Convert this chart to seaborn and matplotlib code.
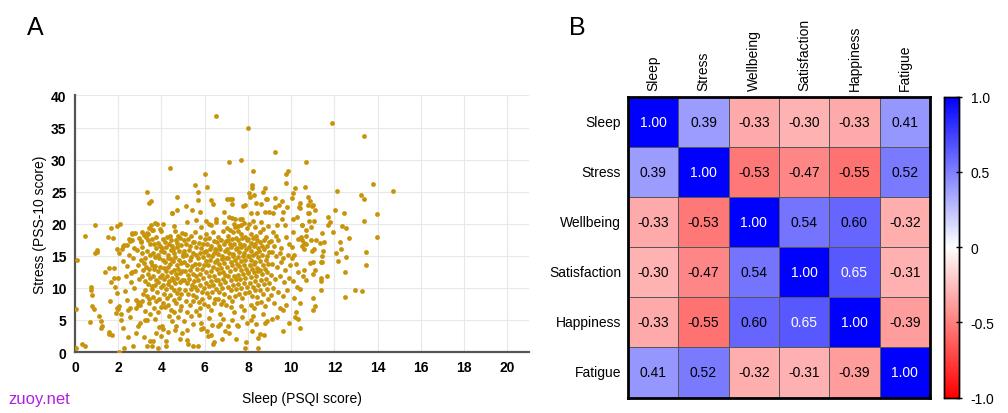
import numpy as np
import pandas as pd
import matplotlib
matplotlib.use("Agg")
import matplotlib.pyplot as plt
import seaborn as sns

# ── Panel A data: (Sleep PSQI, Stress PSS-10) ──────────────────────────
pts_low_sleep = [
    (0.91, 19.8), (1.66, 19.4), (1.95, 19.7), (2.08, 19.9), (0.45, 18.1), (1.54, 17.9),
    (1.76, 17.7), (0.11, 14.4), (1.0, 15.6), (0.94, 15.4), (0.73, 10.2), (0.74, 9.7),
    (0.79, 8.9), (0.05, 6.7), (0.79, 7.1), (0.86, 6.7), (0.69, 4.7), (1.12, 5.6),
    (1.19, 4.9), (1.19, 3.8), (0.05, 0.6), (0.31, 1.2), (0.46, 0.9), (1.56, 3.1),
    (1.72, 2.6), (2.05, 0.0), (1.39, 12.5), (1.57, 13.1), (1.82, 13.1), (2.0, 11.6),
    (1.86, 10.1), (1.93, 6.8), (1.91, 6.1), (2.11, 5.9), (2.12, 5.0), (1.58, 2.8),
    (1.94, 16.0), (2.03, 15.4), (2.18, 16.1), (1.82, 11.5), (1.66, 10.9), (1.62, 8.0),
    (1.95, 9.2), (2.05, 7.2), (1.26, 4.0), (2.0, 6.7), (1.03, 15.9),
    (2.22, 14.2), (2.23, 16.5), (2.28, 16.7), (2.42, 16.7), (2.62, 18.5), (2.54, 17.3),
    (2.49, 17.6), (2.63, 17.5), (2.65, 12.5), (2.59, 12.3), (2.79, 12.6), (2.6, 10.9),
    (2.82, 8.1), (2.93, 7.8), (3.0, 7.3), (2.9, 7.4), (2.82, 6.9), (3.02, 4.5),
    (2.91, 4.1), (2.46, 6.5), (2.56, 6.8), (2.56, 5.4), (2.26, 0.7), (2.68, 1.0),
    (2.3, 9.5), (2.4, 13.4), (2.7, 14.6), (2.5, 15.2), (2.85, 15.9), (2.35, 11.8),
    (2.75, 10.0), (2.2, 3.8), (2.45, 2.4), (2.8, 3.0), (2.75, 16.2), (2.9, 13.5),
    (2.95, 17.8), (2.4, 8.1), (2.62, 18.4), (2.77, 18.5),
]

pts_sleep_3_5 = [
    (3.05, 17.1), (3.06, 17.3), (3.12, 16.4), (3.2, 18.2), (3.28, 17.9), (3.35, 18.6),
    (3.42, 19.3), (3.1, 15.5), (3.19, 13.9), (3.25, 14.6), (3.33, 15.8), (3.45, 16.9),
    (3.48, 15.1), (3.15, 12.8), (3.3, 13.2), (3.38, 12.1), (3.43, 12.9), (3.08, 11.9),
    (2.98, 11.4), (3.22, 11.1), (3.36, 10.6), (3.47, 11.5), (3.54, 10.3), (3.16, 9.1),
    (3.26, 9.7), (3.43, 8.3), (3.32, 8.8), (3.12, 8.0), (3.4, 7.6), (3.22, 6.4),
    (3.34, 5.0), (3.25, 5.0), (3.46, 6.0), (3.46, 1.7), (3.33, 0.9), (3.18, 2.3),
    (3.5, 14.0), (3.05, 14.3), (3.38, 17.4), (3.31, 24.9), (3.51, 23.6), (3.42, 23.2),
    (3.5, 19.8), (3.08, 18.7), (3.38, 18.4),
    (3.55, 19.0), (3.62, 19.1), (3.7, 20.1), (3.8, 20.0), (3.77, 17.9), (3.92, 19.2),
    (3.58, 17.6), (3.66, 16.8), (3.74, 16.2), (3.85, 17.0), (3.95, 16.5), (3.6, 15.4),
    (3.7, 14.8), (3.82, 15.2), (3.9, 14.6), (3.98, 15.8), (3.56, 13.6), (3.64, 12.9),
    (3.72, 13.4), (3.86, 12.6), (3.94, 13.3), (3.6, 11.8), (3.76, 11.2), (3.84, 10.9),
    (3.92, 11.7), (3.58, 9.8), (3.68, 10.4), (3.8, 9.4), (3.96, 10.1), (3.62, 8.6),
    (3.75, 7.9), (3.88, 8.3), (3.66, 6.8), (3.84, 6.2), (3.97, 7.0), (3.74, 3.0),
    (3.89, 3.9), (3.82, 0.6), (3.54, 0.9), (3.62, 1.7), (3.96, 2.5), (3.7, 5.2),
    (4.0, 18.8), (4.08, 20.0), (4.38, 18.1), (4.05, 17.6), (4.15, 17.2), (4.25, 17.9),
    (4.35, 16.8), (4.45, 17.5), (4.02, 16.2), (4.12, 15.6), (4.22, 16.4), (4.3, 15.2),
    (4.42, 15.9), (4.48, 16.6), (4.05, 14.4), (4.18, 14.0), (4.28, 14.7), (4.38, 13.8),
    (4.46, 14.5), (4.1, 13.1), (4.2, 12.6), (4.32, 13.2), (4.44, 12.4), (4.02, 12.0),
    (4.14, 11.4), (4.26, 11.8), (4.36, 11.0), (4.48, 11.6), (4.08, 10.4), (4.2, 9.9),
    (4.3, 10.6), (4.42, 10.1), (4.12, 9.0), (4.25, 8.4), (4.4, 8.9), (4.05, 7.6),
    (4.18, 7.0), (4.32, 7.4), (4.45, 6.6), (4.02, 4.0), (4.05, 3.6), (4.22, 1.7),
    (4.2, 1.0), (4.35, 5.6), (4.48, 4.8), (4.28, 3.1), (4.39, 28.7), (4.48, 21.6),
    (4.62, 18.9), (4.77, 18.1), (4.7, 22.1), (4.71, 24.1), (4.5, 21.6), (4.56, 19.6),
    (4.66, 17.4), (4.74, 17.0), (4.84, 17.7), (4.94, 18.5), (4.52, 16.1), (4.6, 15.5),
    (4.7, 16.3), (4.8, 15.8), (4.9, 16.7), (4.98, 15.3), (4.55, 14.2), (4.64, 14.8),
    (4.72, 13.6), (4.82, 14.4), (4.92, 13.9), (4.58, 12.8), (4.68, 12.2), (4.78, 12.9),
    (4.88, 12.3), (4.96, 12.7), (4.54, 11.3), (4.62, 10.8), (4.74, 11.5), (4.86, 10.9),
    (4.95, 11.3), (4.6, 9.6), (4.7, 9.2), (4.82, 9.8), (4.92, 9.0), (4.56, 8.1),
    (4.68, 7.6), (4.8, 8.4), (4.9, 7.2), (4.62, 3.4), (4.67, 4.0), (4.58, 6.2),
    (4.76, 5.4), (4.88, 6.5), (4.95, 3.0), (4.85, 2.1), (4.98, 14.9),
]

pts_sleep_5_7 = [
    (5.08, 18.4), (5.14, 22.7), (5.4, 22.2), (5.38, 18.1), (5.2, 20.3), (5.02, 17.4),
    (5.12, 16.8), (5.22, 17.6), (5.32, 16.5), (5.44, 17.2), (5.05, 15.7), (5.15, 15.1),
    (5.26, 15.9), (5.36, 14.8), (5.48, 15.5), (5.04, 14.1), (5.18, 13.6), (5.3, 14.3),
    (5.42, 13.4), (5.1, 12.6), (5.22, 12.0), (5.34, 12.8), (5.46, 12.2), (5.06, 11.2),
    (5.16, 10.7), (5.28, 11.4), (5.4, 10.5), (5.5, 11.0), (5.1, 9.6), (5.24, 9.1),
    (5.36, 9.8), (5.48, 8.9), (5.14, 8.0), (5.3, 7.4), (5.44, 7.9), (5.2, 6.2),
    (5.38, 5.6), (5.16, 3.5), (5.2, 1.9), (5.22, 1.2), (5.46, 4.4), (5.05, 4.9),
    (5.54, 18.7), (5.77, 17.9), (5.56, 26.1), (5.71, 24.9), (5.68, 23.7), (5.76, 21.9),
    (5.6, 20.6), (5.85, 19.5), (5.52, 17.1), (5.62, 16.4), (5.72, 17.0), (5.82, 16.2),
    (5.94, 16.9), (5.58, 15.2), (5.68, 14.6), (5.78, 15.4), (5.9, 14.8), (5.98, 15.6),
    (5.55, 13.7), (5.65, 13.0), (5.75, 13.8), (5.86, 12.9), (5.96, 13.5), (5.6, 11.9),
    (5.7, 11.3), (5.8, 12.1), (5.92, 11.5), (5.54, 10.2), (5.66, 9.7), (5.78, 10.4),
    (5.88, 9.4), (5.98, 10.0), (5.62, 8.5), (5.74, 7.8), (5.86, 8.3), (5.96, 7.5),
    (5.58, 6.4), (5.72, 5.7), (5.84, 4.6), (5.67, 1.0), (5.9, 3.8), (5.8, 6.9),
    (5.46, 1.0), (5.85, 3.6),
    (6.08, 18.4), (6.38, 18.7), (6.0, 27.8), (6.11, 25.7), (6.31, 23.7), (6.08, 20.4),
    (6.19, 20.0), (6.31, 19.8), (6.02, 17.6), (6.12, 16.9), (6.22, 17.8), (6.3, 16.6),
    (6.42, 17.3), (6.48, 16.1), (6.05, 15.8), (6.15, 15.2), (6.25, 16.0), (6.35, 14.9),
    (6.45, 15.5), (6.04, 14.2), (6.16, 13.6), (6.26, 14.4), (6.38, 13.3), (6.48, 14.0),
    (6.08, 12.4), (6.2, 11.8), (6.3, 12.6), (6.42, 11.9), (6.06, 10.8), (6.18, 10.3),
    (6.28, 11.1), (6.4, 10.5), (6.5, 11.3), (6.1, 9.2), (6.22, 8.6), (6.34, 9.4),
    (6.46, 8.2), (6.14, 7.2), (6.3, 6.6), (6.44, 7.6), (6.2, 5.3), (6.35, 4.2),
    (6.28, 2.6), (6.12, 3.3), (6.39, 23.0), (6.45, 1.5), (6.39, 1.2), (6.16, 2.5),
    (6.5, 36.8), (6.51, 20.7), (6.54, 20.3), (6.87, 20.2), (6.62, 17.9), (6.85, 18.9),
    (6.91, 21.9), (6.56, 17.2), (6.66, 16.6), (6.76, 17.5), (6.88, 16.8), (6.98, 17.3),
    (6.52, 15.9), (6.62, 15.3), (6.72, 16.1), (6.82, 15.0), (6.94, 15.7), (6.58, 14.3),
    (6.68, 13.7), (6.78, 14.5), (6.9, 13.9), (6.98, 14.6), (6.55, 12.9), (6.65, 12.3),
    (6.75, 13.1), (6.86, 12.5), (6.96, 12.0), (6.6, 11.2), (6.72, 10.6), (6.84, 11.4),
    (6.94, 10.9), (6.54, 9.8), (6.66, 9.3), (6.78, 10.0), (6.9, 9.1), (6.62, 8.2),
    (6.74, 7.5), (6.86, 8.0), (6.98, 7.3), (6.7, 6.0), (6.84, 5.2), (6.6, 4.0),
    (6.95, 3.3), (6.78, 2.1), (6.7, 4.4),
]

pts_sleep_7_9 = [
    (7.11, 29.7), (7.02, 23.9), (7.19, 23.9), (7.27, 23.8), (7.27, 23.0), (7.13, 21.1),
    (7.28, 20.9), (7.42, 20.7), (7.34, 20.0), (7.08, 18.1), (7.31, 18.7), (7.04, 19.4),
    (7.18, 19.1), (7.4, 19.5), (7.06, 17.4), (7.16, 16.8), (7.26, 17.6), (7.36, 16.9),
    (7.46, 17.8), (7.02, 16.1), (7.12, 15.5), (7.22, 16.3), (7.32, 15.3), (7.44, 16.0),
    (7.08, 14.7), (7.2, 14.1), (7.3, 14.9), (7.42, 14.3), (7.04, 13.3), (7.16, 12.7),
    (7.28, 13.5), (7.4, 12.9), (7.48, 13.7), (7.1, 11.8), (7.22, 11.2), (7.34, 11.9),
    (7.46, 11.4), (7.06, 10.2), (7.2, 9.6), (7.32, 10.4), (7.44, 9.8), (7.14, 8.6),
    (7.28, 8.0), (7.4, 8.8), (7.2, 7.0), (7.36, 6.2), (7.24, 5.0), (7.48, 4.2),
    (7.12, 2.9), (7.08, 4.1), (7.47, 2.1),
    (7.67, 29.9), (7.54, 18.9), (7.69, 18.4), (7.85, 17.9), (7.79, 22.7), (7.87, 22.9),
    (7.62, 20.8), (7.73, 20.7), (7.67, 19.8), (7.84, 20.1), (7.52, 19.6), (7.96, 19.3),
    (7.56, 17.5), (7.64, 16.9), (7.74, 17.7), (7.82, 16.7), (7.94, 17.4), (7.5, 16.2),
    (7.6, 15.6), (7.7, 16.4), (7.8, 15.4), (7.92, 16.0), (7.54, 14.8), (7.66, 14.2),
    (7.76, 15.0), (7.88, 14.4), (7.98, 14.9), (7.58, 13.4), (7.7, 12.8), (7.8, 13.6),
    (7.92, 13.0), (7.52, 12.0), (7.64, 11.4), (7.76, 12.2), (7.88, 11.6), (7.98, 12.4),
    (7.56, 10.6), (7.68, 10.0), (7.82, 10.8), (7.94, 10.2), (7.6, 9.0), (7.74, 8.4),
    (7.88, 9.2), (7.66, 7.2), (7.84, 6.6), (7.72, 5.4), (7.95, 4.6), (7.9, 1.6),
    (7.85, 0.7), (7.54, 4.1),
    (8.0, 35.0), (8.25, 28.2), (8.04, 24.8), (8.08, 24.1), (8.18, 26.0), (8.21, 25.5),
    (8.28, 24.5), (8.13, 21.6), (8.44, 21.7), (8.36, 23.2), (8.31, 19.5), (8.15, 18.4),
    (8.38, 18.1), (8.05, 19.9), (8.22, 20.4), (8.02, 17.6), (8.12, 17.0), (8.22, 17.8),
    (8.32, 16.9), (8.44, 17.5), (8.06, 16.3), (8.16, 15.7), (8.26, 16.5), (8.36, 15.5),
    (8.48, 16.2), (8.04, 15.0), (8.14, 14.4), (8.24, 15.2), (8.34, 14.1), (8.46, 14.8),
    (8.08, 13.5), (8.2, 12.9), (8.3, 13.7), (8.42, 13.1), (8.02, 12.3), (8.14, 11.7),
    (8.26, 12.5), (8.38, 11.9), (8.48, 12.6), (8.1, 10.8), (8.22, 10.2), (8.34, 11.0),
    (8.46, 10.4), (8.06, 9.4), (8.2, 8.8), (8.32, 9.6), (8.44, 8.6), (8.14, 7.4),
    (8.3, 6.8), (8.42, 7.6), (8.24, 5.6), (8.38, 4.4), (8.18, 3.3), (8.45, 2.2),
    (8.47, 0.7), (8.13, 5.0),
    (8.54, 18.7), (8.85, 17.9), (8.62, 23.1), (8.68, 25.0), (8.78, 25.6), (8.85, 23.8),
    (8.9, 23.9), (8.81, 21.9), (8.96, 21.8), (8.62, 20.2), (8.93, 19.6), (8.7, 19.2),
    (8.56, 17.2), (8.66, 16.6), (8.76, 17.4), (8.9, 16.5), (8.98, 17.1), (8.52, 15.8),
    (8.64, 15.2), (8.74, 16.0), (8.86, 15.0), (8.96, 15.6), (8.58, 14.2), (8.7, 13.6),
    (8.82, 14.4), (8.94, 13.8), (8.54, 12.8), (8.66, 12.2), (8.78, 13.0), (8.9, 12.4),
    (8.6, 11.2), (8.72, 10.6), (8.84, 11.4), (8.96, 10.8), (8.56, 9.6), (8.7, 9.0),
    (8.86, 9.8), (8.62, 7.8), (8.8, 7.2), (8.94, 8.2), (8.7, 5.9), (8.88, 4.8),
    (8.75, 2.7), (8.55, 2.8), (8.78, 4.5),
]

pts_sleep_9_11 = [
    (9.27, 31.2), (9.16, 21.6), (9.27, 24.0), (9.27, 22.6), (9.42, 22.9), (9.59, 23.6),
    (9.62, 21.9), (9.82, 22.6), (9.87, 28.2), (9.75, 27.8), (9.78, 26.4), (9.15, 18.7),
    (9.31, 18.1), (9.33, 19.8), (9.58, 20.7), (9.7, 19.8), (9.77, 17.9), (9.05, 17.3),
    (9.2, 16.6), (9.4, 17.4), (9.55, 16.2), (9.9, 16.9), (9.1, 15.6), (9.28, 14.9),
    (9.46, 15.4), (9.64, 14.6), (9.85, 15.2), (9.12, 13.8), (9.35, 13.2), (9.52, 14.0),
    (9.72, 12.8), (9.94, 13.5), (9.08, 12.0), (9.26, 11.4), (9.48, 11.9), (9.66, 10.9),
    (9.88, 11.6), (9.18, 10.0), (9.4, 9.4), (9.6, 8.7), (9.8, 9.6), (9.22, 7.6),
    (9.5, 6.8), (9.74, 7.3), (9.35, 5.4), (9.9, 4.6), (9.6, 3.2), (9.05, 8.9),
    (9.13, 5.1), (9.62, 6.5),
    (10.04, 24.0), (10.08, 24.8), (10.18, 25.6), (10.39, 23.2), (10.36, 22.6), (10.62, 25.7),
    (10.76, 24.2), (10.76, 22.9), (10.07, 20.7), (10.28, 21.1), (10.5, 19.8), (10.78, 21.7),
    (10.08, 18.7), (10.31, 17.6), (10.69, 18.1), (10.7, 29.7), (10.87, 23.6), (10.96, 22.8),
    (10.82, 21.7), (10.39, 22.4), (10.48, 19.8), (10.7, 19.1), (10.93, 19.5), (10.44, 18.0),
    (10.52, 17.5), (10.58, 17.0), (10.67, 16.9), (10.5, 16.6), (10.93, 17.5), (10.61, 16.1),
    (10.96, 15.7), (10.87, 13.9), (10.99, 14.1), (10.61, 12.8), (10.56, 11.9), (10.7, 11.2),
    (10.39, 9.8), (10.39, 7.6), (10.39, 3.7), (10.05, 16.4), (10.15, 15.2), (10.22, 13.8),
    (10.3, 12.4), (10.1, 11.0), (10.25, 10.2), (10.12, 8.4), (10.2, 6.3), (10.3, 5.2),
    (10.06, 14.6), (10.16, 5.5), (11.02, 22.9), (11.1, 22.2), (11.07, 20.5), (10.81, 20.5),
    (11.13, 17.5), (11.07, 16.1), (11.09, 12.8), (11.01, 12.1), (11.02, 8.4), (11.09, 7.1),
    (11.02, 6.5),
]

pts_high_sleep = [
    (11.9, 35.7), (13.35, 33.7), (13.78, 26.2), (14.69, 25.1), (12.12, 25.1), (13.24, 24.5),
    (13.35, 23.8), (12.04, 22.2), (12.46, 21.6), (11.7, 21.1), (11.81, 20.2), (11.69, 19.8),
    (13.35, 20.5), (13.98, 21.5), (12.35, 19.6), (12.53, 19.4), (11.92, 18.7), (11.44, 18.6),
    (12.66, 17.8), (13.96, 17.9), (11.33, 17.0), (11.5, 17.1), (12.24, 17.2), (12.29, 16.0),
    (12.06, 15.4), (13.44, 15.6), (11.47, 15.7), (11.42, 14.9), (12.55, 14.8), (12.16, 14.2),
    (11.36, 14.1), (11.42, 14.1), (13.47, 13.6), (12.49, 12.4), (11.65, 11.8), (11.39, 11.5),
    (11.39, 11.0), (11.36, 9.7), (12.93, 9.7), (13.26, 9.5), (12.47, 8.6),
]

# ── Panel B data: correlation matrix ──────────────────────────────────
measures = ["Sleep", "Stress", "Wellbeing", "Satisfaction", "Happiness", "Fatigue"]
corr_rows = [
    [1.00, 0.39, -0.33, -0.30, -0.33, 0.41],
    [0.39, 1.00, -0.53, -0.47, -0.55, 0.52],
    [-0.33, -0.53, 1.00, 0.54, 0.60, -0.32],
    [-0.30, -0.47, 0.54, 1.00, 0.65, -0.31],
    [-0.33, -0.55, 0.60, 0.65, 1.00, -0.39],
    [0.41, 0.52, -0.32, -0.31, -0.39, 1.00],
]
cbar_ticks = [1.0, 0.5, 0, -0.5, -1.0]
cbar_labels = ["1.0", "0.5", "0", "-0.5", "-1.0"]

DOT = "#c8940a"
plt.rcParams["font.family"] = ["Liberation Sans", "DejaVu Sans"]

all_pts = (pts_low_sleep + pts_sleep_3_5 + pts_sleep_5_7 + pts_sleep_7_9
           + pts_sleep_9_11 + pts_high_sleep)
df = pd.DataFrame(all_pts, columns=["sleep", "stress"])

fig = plt.figure(figsize=(10.08, 4.14), dpi=100)

# ── Panel A: scatter ──────────────────────────────────────────────────
ax1 = fig.add_axes([0.0744, 0.1473, 0.4504, 0.6197])
sns.scatterplot(data=df, x="sleep", y="stress", ax=ax1, color=DOT,
                s=12, linewidth=0, alpha=1, zorder=3)
ax1.set_xlim(0, 21)
ax1.set_ylim(0, 40)
ax1.set_xticks(range(0, 21, 2))
ax1.set_yticks(range(0, 41, 5))
ax1.grid(True, color="#e8e8e8", linewidth=0.8, zorder=0)
ax1.set_axisbelow(True)
for side in ["top", "right"]:
    ax1.spines[side].set_visible(False)
for side in ["left", "bottom"]:
    ax1.spines[side].set_color("#555555")
    ax1.spines[side].set_linewidth(1.6)
ax1.tick_params(length=0, pad=6, labelsize=10)
for lab in ax1.get_xticklabels() + ax1.get_yticklabels():
    lab.set_fontweight("bold")
ax1.set_xlabel("Sleep (PSQI score)", fontsize=10, labelpad=12)
ax1.set_ylabel("Stress (PSS-10 score)", fontsize=10, labelpad=3)

# ── Panel B: heatmap ──────────────────────────────────────────────────
corr = pd.DataFrame(corr_rows, index=measures, columns=measures)
ax2 = fig.add_axes([0.623, 0.0374, 0.2996, 0.727])
cax = fig.add_axes([0.9365, 0.0374, 0.0149, 0.727])
sns.heatmap(corr, ax=ax2, cbar_ax=cax, cmap="bwr_r", vmin=-1, vmax=1,
            annot=True, fmt=".2f", annot_kws={"fontsize": 10, "color": "black"},
            linewidths=0.5, linecolor="#555555", square=False)
for txt in ax2.texts:
    if float(txt.get_text()) >= 0.62:
        txt.set_color("white")
ax2.xaxis.tick_top()
ax2.set_xticklabels(measures, rotation=90, fontsize=10)
ax2.set_yticklabels(measures, rotation=0, fontsize=10)
ax2.tick_params(length=0, pad=5)
ax2.set_xlabel("")
ax2.set_ylabel("")
for sp in ax2.spines.values():
    sp.set_visible(True)
    sp.set_linewidth(2)
    sp.set_color("black")

cax.set_yticks(cbar_ticks)
cax.set_yticklabels(cbar_labels, fontsize=10)
cax.tick_params(direction="inout", length=5, width=1, pad=6)
for sp in cax.spines.values():
    sp.set_visible(True)
    sp.set_linewidth(1)
    sp.set_color("black")

# panel letters and watermark
fig.text(0.027, 0.915, "A", fontsize=18)
fig.text(0.564, 0.915, "B", fontsize=18)
fig.text(0.008, 0.025, "zuoy.net", fontsize=12, color="#b020e0")

fig.savefig("out.png", dpi=100)
